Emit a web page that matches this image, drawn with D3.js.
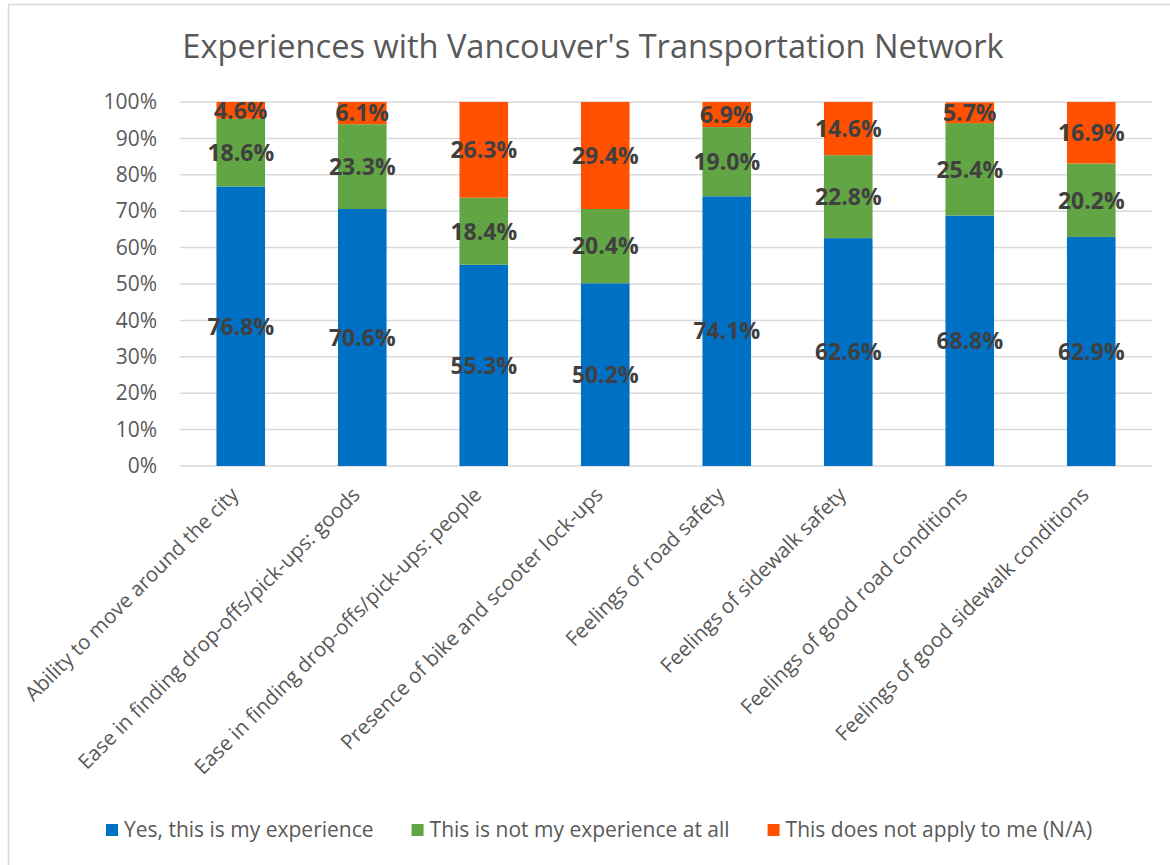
<!DOCTYPE html>
<html>
<head>
<meta charset="utf-8">
<style>
  body { margin: 0; background: #fff; }
  svg { font-family: "Open Sans", sans-serif; display: block; }
</style>
</head>
<body>
<svg width="1170" height="865"></svg>
<script src="https://d3js.org/d3.v7.min.js"></script>
<script>

var categories = [
  "Ability to move around the city",
  "Ease in finding drop-offs/pick-ups: goods",
  "Ease in finding drop-offs/pick-ups: people",
  "Presence of bike and scooter lock-ups",
  "Feelings of road safety",
  "Feelings of sidewalk safety",
  "Feelings of good road conditions",
  "Feelings of good sidewalk conditions"
];

var seriesNames = [
  "Yes, this is my experience",
  "This is not my experience at all",
  "This does not apply to me (N/A)"
];

var yesValues = [76.8, 70.6, 55.3, 50.2, 74.1, 62.6, 68.8, 62.9];
var notValues = [18.6, 23.3, 18.4, 20.4, 19.0, 22.8, 25.4, 20.2];
var naValues  = [4.6, 6.1, 26.3, 29.4, 6.9, 14.6, 5.7, 16.9];

var yTicks = [0, 10, 20, 30, 40, 50, 60, 70, 80, 90, 100];

var title = "Experiences with Vancouver's Transportation Network";

var colors = ["#0070C5", "#62A544", "#FF5100"];

var svg = d3.select("svg");

// chart frame (cut off at the right and bottom, like the screenshot)
svg.append("rect")
    .attr("x", 8.5).attr("y", 4.5)
    .attr("width", 1300).attr("height", 1000)
    .attr("fill", "none")
    .attr("stroke", "#d9d9d9")
    .attr("stroke-width", 1.5);

// caption above the frame, only its descenders show
svg.append("text")
    .attr("x", 8).attr("y", -3)
    .style("font-family", "Liberation Sans, Arial, sans-serif")
    .style("font-weight", "bold")
    .style("font-size", "16px")
    .attr("fill", "#000")
    .text("Figure 12: Experiences with Vancouver's Transportation Network by Respondents");

var x = d3.scaleBand()
    .domain(categories)
    .range([180, 1152])
    .paddingInner(0.6)
    .paddingOuter(0.3);

var y = d3.scaleLinear()
    .domain([0, 100])
    .range([466, 102]);

// gridlines
svg.append("g")
  .selectAll("line")
  .data(yTicks)
  .enter().append("line")
    .attr("x1", 180).attr("x2", 1152)
    .attr("y1", function(d) { return y(d); })
    .attr("y2", function(d) { return y(d); })
    .attr("stroke", "#d9d9d9")
    .attr("stroke-width", 1.5);

// y axis labels
var yAxis = d3.axisLeft(y)
    .tickValues(yTicks)
    .tickSize(0)
    .tickPadding(0)
    .tickFormat(function(d) { return d + "%"; });

var ya = svg.append("g")
    .attr("transform", "translate(157,0)")
    .call(yAxis);
ya.select(".domain").remove();
ya.selectAll("text")
    .style("font-family", "Open Sans, sans-serif")
    .style("font-size", "21px")
    .attr("fill", "#595959");

// stacked data
var rows = categories.map(function(c, i) {
  return { cat: c, yes: yesValues[i], not: notValues[i], na: naValues[i] };
});
var keys = ["yes", "not", "na"];
var stacked = d3.stack().keys(keys)(rows);

var layers = svg.append("g")
  .selectAll("g")
  .data(stacked)
  .enter().append("g")
    .attr("fill", function(d, i) { return colors[i]; });

layers.selectAll("rect")
  .data(function(d) { return d; })
  .enter().append("rect")
    .attr("x", function(d) { return x(d.data.cat); })
    .attr("width", x.bandwidth())
    .attr("y", function(d) { return y(d[1]); })
    .attr("height", function(d) { return y(d[0]) - y(d[1]); });

// data labels
layers.selectAll("text")
  .data(function(d) { return d; })
  .enter().append("text")
    .attr("x", function(d) { return x(d.data.cat) + x.bandwidth() / 2; })
    .attr("y", function(d) { return y((d[0] + d[1]) / 2); })
    .attr("dy", "0.36em")
    .attr("text-anchor", "middle")
    .style("font-size", "23px")
    .style("font-weight", "bold")
    .attr("fill", "#404040")
    .text(function(d) { return (d[1] - d[0]).toFixed(1) + "%"; });

// category labels, rotated
svg.append("g")
  .selectAll("text")
  .data(categories)
  .enter().append("text")
    .attr("transform", function(d) {
      return "translate(" + (x(d) + x.bandwidth() / 2 - 1) + ",496) rotate(-45)";
    })
    .attr("text-anchor", "end")
    .style("font-size", "20.5px")
    .attr("fill", "#595959")
    .text(function(d) { return d; });

// title
svg.append("text")
    .attr("x", 593).attr("y", 58)
    .attr("text-anchor", "middle")
    .style("font-size", "32.6px")
    .attr("fill", "#595959")
    .text(title);

// legend
var legend = svg.append("g");
var lx = 106;
seriesNames.forEach(function(name, i) {
  legend.append("rect")
      .attr("x", lx).attr("y", 824)
      .attr("width", 12).attr("height", 12)
      .attr("fill", colors[i]);
  var t = legend.append("text")
      .attr("x", lx + 18).attr("y", 837)
      .style("font-size", "21px")
      .attr("fill", "#595959")
      .text(name);
  lx += 18 + t.node().getComputedTextLength() + 38;
});

</script>
</body>
</html>
